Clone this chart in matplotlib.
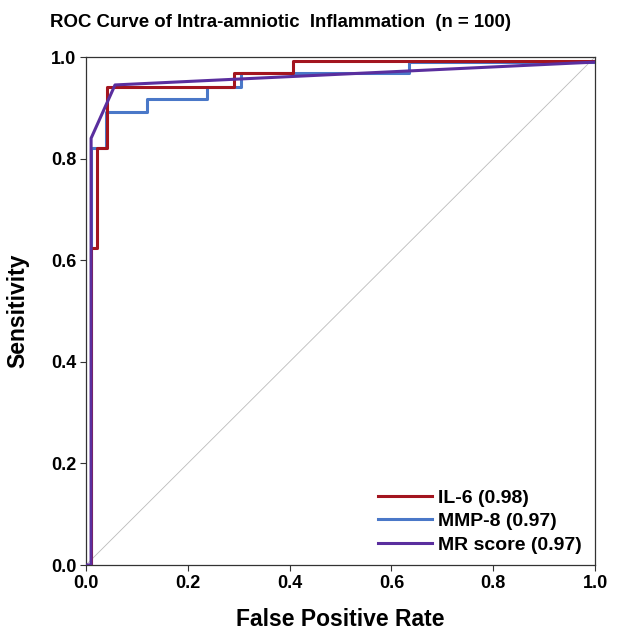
import matplotlib
matplotlib.use("Agg")
import matplotlib.pyplot as plt

plt.rcParams['font.family'] = ['Liberation Sans', 'DejaVu Sans']

# ROC data
il6_fpr = [0.0, 0.01, 0.01, 0.022, 0.022, 0.042, 0.042, 0.291, 0.291, 0.406, 0.406, 1.0]
il6_tpr = [0.0, 0.0, 0.624, 0.624, 0.821, 0.821, 0.94, 0.94, 0.968, 0.968, 0.992, 0.992]

mmp8_fpr = [0.0, 0.01, 0.01, 0.039, 0.039, 0.119, 0.119, 0.238, 0.238, 0.305, 0.305, 0.635, 0.635, 1.0]
mmp8_tpr = [0.0, 0.0, 0.82, 0.82, 0.892, 0.892, 0.917, 0.917, 0.94, 0.94, 0.968, 0.968, 0.99, 0.99]

mr_fpr = [0.0, 0.01, 0.01, 0.057, 1.0]
mr_tpr = [0.0, 0.0, 0.84, 0.945, 0.99]

labels = ['IL-6 (0.98)', 'MMP-8 (0.97)', 'MR score (0.97)']
colors = ['#A3151F', '#4A78C8', '#5A2E9E']
ticks = [0.0, 0.2, 0.4, 0.6, 0.8, 1.0]
tick_labels = ['0.0', '0.2', '0.4', '0.6', '0.8', '1.0']

fig = plt.figure(figsize=(6.3, 6.38), dpi=100)
ax = fig.add_axes([86/630, 1-565/638, (595-86)/630, (565-57)/638])

ax.plot([0, 1], [0, 1], color='#BBBBBB', lw=0.6, zorder=1)
h2, = ax.plot(mmp8_fpr, mmp8_tpr, color=colors[1], lw=2.2, zorder=2, label=labels[1])
h1, = ax.plot(il6_fpr, il6_tpr, color=colors[0], lw=2.2, zorder=3, label=labels[0])
h3, = ax.plot(mr_fpr, mr_tpr, color=colors[2], lw=2.2, zorder=4, label=labels[2])

ax.set_xlim(0, 1)
ax.set_ylim(0, 1)
ax.set_xticks(ticks)
ax.set_yticks(ticks)
ax.set_xticklabels(tick_labels, fontsize=13, fontweight='bold')
ax.set_yticklabels(tick_labels, fontsize=13, fontweight='bold')
ax.tick_params(direction='out', length=4, width=0.8, color='#333333', pad=3)
for s in ax.spines.values():
    s.set_color('#333333')
    s.set_linewidth(0.9)

fig.text(340/630, 1-620/638, 'False Positive Rate', fontsize=16.5, fontweight='bold',
         ha='center', va='center')
fig.text(18/630, 1-311/638, 'Sensitivity', fontsize=16.5, fontweight='bold',
         ha='center', va='center', rotation=90)

fig.text(50/630, 1-27/638, 'ROC Curve of Intra-amniotic  Inflammation  (n = 100)',
         fontsize=13.4, fontweight='bold', ha='left', va='baseline')

leg = ax.legend(handles=[h1, h2, h3], loc='upper left',
                bbox_to_anchor=((378-86)/509, (565-489)/508), frameon=False,
                prop={'size': 14, 'weight': 'bold'}, handlelength=2.8,
                labelspacing=0.3, borderaxespad=0.0, borderpad=0.0,
                handletextpad=0.28)

fig.savefig('out.png', dpi=100)
